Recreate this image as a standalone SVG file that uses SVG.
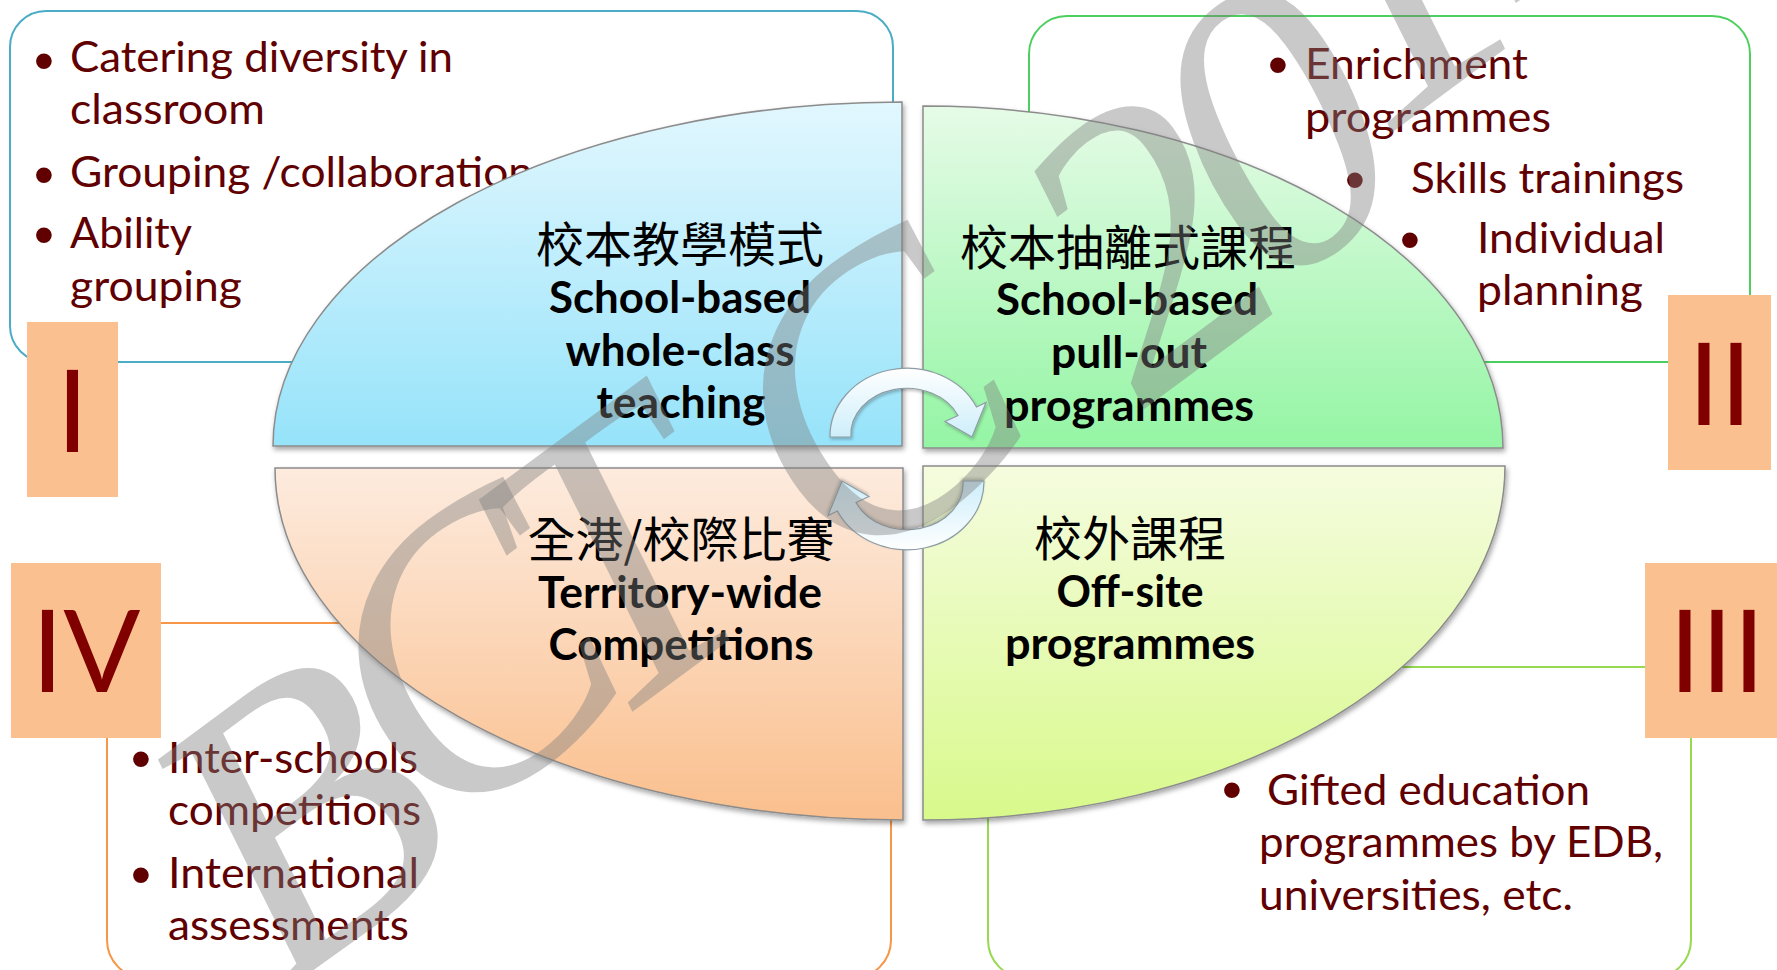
<svg xmlns="http://www.w3.org/2000/svg" width="1777" height="970" viewBox="0 0 1777 970">
  <defs>
    <style>
      .frame { fill: #ffffff; stroke-width: 2; }
      .tag { fill: #FAC090; }
      .num { font-family: Lato, "Liberation Sans", sans-serif; font-size: 114px; fill: #800000; text-anchor: middle; }
      .item { font-family: Lato, "Liberation Sans", sans-serif; font-size: 43px; fill: #600000; }
      .dot { font-family: "Liberation Sans", sans-serif; font-size: 58px; fill: #600000; text-anchor: middle; }
      .quad { stroke: #8C8C8C; stroke-width: 1.5; filter: url(#shadow); }
      .zh { font-family: "Noto Sans CJK TC", "Noto Sans CJK SC", sans-serif; font-size: 48px; fill: #000; text-anchor: middle; }
      .en { font-family: Lato, "Liberation Sans", sans-serif; font-weight: 700; font-size: 43px; fill: #000; text-anchor: middle; }
      .cycle { fill: url(#arrowFill); stroke: #8E9CA4; stroke-width: 1.2; filter: url(#softShadow); }
      .mark { font-family: "Liberation Serif", serif; font-style: italic; font-size: 400px; fill: #7F7F7F; fill-opacity: 0.42; text-anchor: middle; }
    </style>
    <linearGradient id="gBlue" x1="0" y1="0" x2="0" y2="1">
      <stop offset="0" stop-color="#E2F7FE"/>
      <stop offset="1" stop-color="#96E3FA"/>
    </linearGradient>
    <linearGradient id="gGreen" x1="0" y1="0" x2="0" y2="1">
      <stop offset="0" stop-color="#E6FBE7"/>
      <stop offset="1" stop-color="#94F5A4"/>
    </linearGradient>
    <linearGradient id="gPeach" x1="0" y1="0" x2="0" y2="1">
      <stop offset="0" stop-color="#FDEBDE"/>
      <stop offset="1" stop-color="#FABF8D"/>
    </linearGradient>
    <linearGradient id="gLime" x1="0" y1="0" x2="0" y2="1">
      <stop offset="0" stop-color="#F5FCDF"/>
      <stop offset="1" stop-color="#D8F98B"/>
    </linearGradient>
    <linearGradient id="arrowFill" x1="0" y1="0" x2="0" y2="1">
      <stop offset="0" stop-color="#FFFFFF"/>
      <stop offset="1" stop-color="#CDEEFA"/>
    </linearGradient>
    <filter id="shadow" x="-5%" y="-5%" width="112%" height="115%">
      <feDropShadow dx="1.5" dy="3" stdDeviation="2.5" flood-color="#000" flood-opacity="0.35"/>
    </filter>
    <filter id="softShadow" x="-10%" y="-10%" width="125%" height="130%">
      <feDropShadow dx="1" dy="2" stdDeviation="1.5" flood-color="#000" flood-opacity="0.25"/>
    </filter>
  </defs>

  <rect width="1777" height="970" fill="#ffffff"/>

  <!-- Tier I: in-class provision -->
  <g id="tier-1">
    <rect class="frame" x="10" y="11" width="883" height="351" rx="36" stroke="#4BACC6"/>
    <text class="dot" x="44" y="80">•</text>
    <text class="item" x="70" y="72" textLength="383" lengthAdjust="spacingAndGlyphs">Catering diversity in</text>
    <text class="item" x="70" y="124" textLength="195" lengthAdjust="spacingAndGlyphs">classroom</text>
    <text class="dot" x="44" y="194">•</text>
    <text class="item" x="70" y="187" textLength="463" lengthAdjust="spacingAndGlyphs">Grouping /collaboration</text>
    <text class="dot" x="44" y="254">•</text>
    <text class="item" x="70" y="248" textLength="122" lengthAdjust="spacingAndGlyphs">Ability</text>
    <text class="item" x="70" y="301" textLength="172" lengthAdjust="spacingAndGlyphs">grouping</text>
    <rect class="tag" x="27" y="322" width="91" height="175"/>
    <text class="num" x="72.5" y="452">I</text>
  </g>

  <!-- Tier II: pull-out programmes -->
  <g id="tier-2">
    <rect class="frame" x="1029" y="16" width="721" height="346" rx="38" stroke="#4DCF60"/>
    <text class="dot" x="1278" y="84">•</text>
    <text class="item" x="1305" y="79" textLength="223" lengthAdjust="spacingAndGlyphs">Enrichment</text>
    <text class="item" x="1305" y="132" textLength="246" lengthAdjust="spacingAndGlyphs">programmes</text>
    <text class="dot" x="1355" y="199">•</text>
    <text class="item" x="1411" y="193" textLength="273" lengthAdjust="spacingAndGlyphs">Skills trainings</text>
    <text class="dot" x="1410" y="259">•</text>
    <text class="item" x="1477" y="253" textLength="188" lengthAdjust="spacingAndGlyphs">Individual</text>
    <text class="item" x="1477" y="305" textLength="166" lengthAdjust="spacingAndGlyphs">planning</text>
    <rect class="tag" x="1668" y="295" width="103" height="175"/>
    <text class="num" x="1720" y="425">II</text>
  </g>

  <!-- Tier III: off-site programmes -->
  <g id="tier-3">
    <rect class="frame" x="988" y="667" width="703" height="311" rx="38" stroke="#97DA50"/>
    <text class="dot" x="1232" y="809">•</text>
    <text class="item" x="1267" y="805" textLength="323" lengthAdjust="spacingAndGlyphs">Gifted education</text>
    <text class="item" x="1259" y="857" textLength="404" lengthAdjust="spacingAndGlyphs">programmes by EDB,</text>
    <text class="item" x="1259" y="910" textLength="314" lengthAdjust="spacingAndGlyphs">universities, etc.</text>
    <rect class="tag" x="1645" y="563" width="132" height="175"/>
    <text class="num" x="1717" y="692">III</text>
  </g>

  <!-- Tier IV: competitions -->
  <g id="tier-4">
    <rect class="frame" x="107" y="623" width="784" height="355" rx="38" stroke="#F79646"/>
    <text class="dot" x="141" y="778">•</text>
    <text class="item" x="168" y="773" textLength="250" lengthAdjust="spacingAndGlyphs">Inter-schools</text>
    <text class="item" x="168" y="825" textLength="253" lengthAdjust="spacingAndGlyphs">competitions</text>
    <text class="dot" x="141" y="894">•</text>
    <text class="item" x="168" y="888" textLength="251" lengthAdjust="spacingAndGlyphs">International</text>
    <text class="item" x="168" y="940" textLength="241" lengthAdjust="spacingAndGlyphs">assessments</text>
    <rect class="tag" x="11" y="563" width="150" height="175"/>
    <text class="num" x="86" y="692">IV</text>
  </g>

  <!-- Central ellipse, four quadrants -->
  <g id="quadrant-whole-class">
    <path class="quad" fill="url(#gBlue)" d="M902,446 L273,446 A629,344 0 0 1 902,102 Z"/>
    <text class="zh" x="680" y="262">校本教學模式</text>
    <text class="en" x="680" y="313" textLength="262" lengthAdjust="spacingAndGlyphs">School-based</text>
    <text class="en" x="680" y="366" textLength="229" lengthAdjust="spacingAndGlyphs">whole-class</text>
    <text class="en" x="681" y="418" textLength="169" lengthAdjust="spacingAndGlyphs">teaching</text>
  </g>
  <g id="quadrant-pull-out">
    <path class="quad" fill="url(#gGreen)" d="M923,448 L923,106 A580,342 0 0 1 1503,448 Z"/>
    <text class="zh" x="1128" y="265">校本抽離式課程</text>
    <text class="en" x="1127" y="315" textLength="262" lengthAdjust="spacingAndGlyphs">School-based</text>
    <text class="en" x="1129" y="368" textLength="156" lengthAdjust="spacingAndGlyphs">pull-out</text>
    <text class="en" x="1129" y="421" textLength="250" lengthAdjust="spacingAndGlyphs">programmes</text>
  </g>
  <g id="quadrant-competitions">
    <path class="quad" fill="url(#gPeach)" d="M903,468 L903,820 A628,352 0 0 1 275,468 Z"/>
    <text class="zh" x="681" y="557">全港/校際比賽</text>
    <text class="en" x="680" y="608" textLength="284" lengthAdjust="spacingAndGlyphs">Territory-wide</text>
    <text class="en" x="681" y="660" textLength="265" lengthAdjust="spacingAndGlyphs">Competitions</text>
  </g>
  <g id="quadrant-off-site">
    <path class="quad" fill="url(#gLime)" d="M923,466 L1505,466 A582,354 0 0 1 923,820 Z"/>
    <text class="zh" x="1130" y="556">校外課程</text>
    <text class="en" x="1130" y="607" textLength="147" lengthAdjust="spacingAndGlyphs">Off-site</text>
    <text class="en" x="1130" y="659" textLength="250" lengthAdjust="spacingAndGlyphs">programmes</text>
  </g>

  <!-- Cycle arrows between the quadrants -->
  <g id="connectors">
    <path id="cycle-top" class="cycle" d="M830,437 A77,68 0 0 1 976.5,407 L986,402.5 L972,437 L945,421.5 L958,415.5 A56,46 0 0 0 851,437 Z"/>
    <path id="cycle-bottom" class="cycle" transform="rotate(180 907 459)" d="M830,437 A77,68 0 0 1 976.5,407 L986,402.5 L972,437 L945,421.5 L958,415.5 A56,46 0 0 0 851,437 Z"/>
  </g>

  <!-- Diagonal watermark, one glyph position per letter -->
  <text class="mark" transform="translate(300 816) rotate(-36.5)" x="0 228 406 706 1020 1190 1370 1560" y="132 103 114 137 175 160 100 130">BCTC2014</text>
</svg>
